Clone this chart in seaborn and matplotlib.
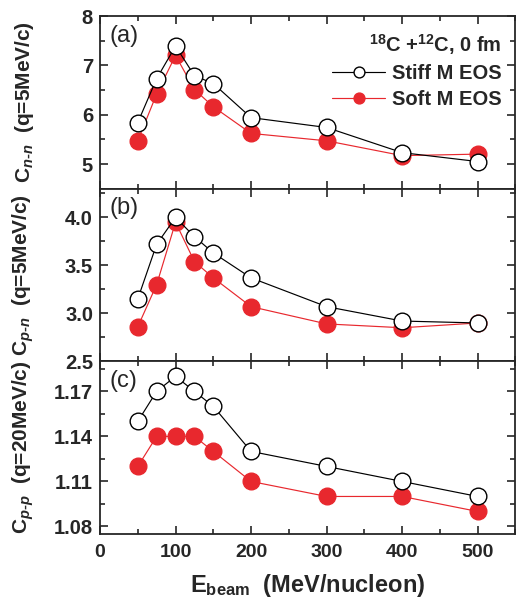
import matplotlib
matplotlib.use("Agg")
import matplotlib.pyplot as plt
import seaborn as sns
import pandas as pd
from matplotlib.ticker import MultipleLocator, FixedLocator

# Beam energies (MeV/nucleon)
energy = [50, 75, 100, 125, 150, 200, 300, 400, 500]

# (a) n-n correlation at q = 5 MeV/c
cnn_stiff = [5.84, 6.73, 7.39, 6.79, 6.63, 5.94, 5.74, 5.23, 5.05]
cnn_soft = [5.47, 6.42, 7.20, 6.51, 6.16, 5.62, 5.47, 5.17, 5.20]

# (b) p-n correlation at q = 5 MeV/c
cpn_stiff = [3.15, 3.72, 4.00, 3.80, 3.63, 3.37, 3.07, 2.92, 2.90]
cpn_soft = [2.86, 3.30, 3.95, 3.54, 3.37, 3.07, 2.89, 2.85, 2.90]

# (c) p-p correlation at q = 20 MeV/c
cpp_stiff = [1.15, 1.17, 1.18, 1.17, 1.16, 1.13, 1.12, 1.11, 1.10]
cpp_soft = [1.12, 1.14, 1.14, 1.14, 1.13, 1.11, 1.10, 1.10, 1.09]

panel_tags = ["(a)", "(b)", "(c)"]
ylabels = [r"C$_{n\text{-}n}$  (q=5MeV/c)",
           r"C$_{p\text{-}n}$  (q=5MeV/c)",
           r"C$_{p\text{-}p}$  (q=20MeV/c)"]
yticks = [[5, 6, 7, 8], [2.5, 3.0, 3.5, 4.0], [1.08, 1.11, 1.14, 1.17]]
yticklabels = [["5", "6", "7", "8"], ["2.5", "3.0", "3.5", "4.0"],
               ["1.08", "1.11", "1.14", "1.17"]]
yminor = [0.5, 0.25, 0.015]
ylims = [(4.5, 8.0), (2.5, 4.3), (1.075, 1.19)]
xticks = [0, 100, 200, 300, 400, 500]
series = [(cnn_stiff, cnn_soft), (cpn_stiff, cpn_soft), (cpp_stiff, cpp_soft)]

sns.set_style("ticks")
plt.rcParams["font.family"] = ["Liberation Sans", "DejaVu Sans"]
plt.rcParams["font.weight"] = "bold"
plt.rcParams["mathtext.fontset"] = "custom"
plt.rcParams["mathtext.rm"] = "Liberation Sans:bold"
plt.rcParams["mathtext.it"] = "Liberation Sans:italic:bold"
plt.rcParams["mathtext.bf"] = "Liberation Sans:bold"

RED = "#e8282e"

fig = plt.figure(figsize=(5.16, 6.03), dpi=100)
gs = fig.add_gridspec(3, 1, left=100 / 516, right=0.999,
                      top=1 - 16 / 603, bottom=1 - 534 / 603, hspace=0)
axes = [fig.add_subplot(gs[i, 0]) for i in range(3)]

for i, ax in enumerate(axes):
    stiff, soft = series[i]
    df = pd.DataFrame({"E": energy, "stiff": stiff, "soft": soft})
    sns.lineplot(data=df, x="E", y="soft", ax=ax, color=RED, lw=0.85,
                 marker="o", markersize=12, markerfacecolor=RED,
                 markeredgecolor=RED, markeredgewidth=1.0,
                 label="Soft M EOS", zorder=2)
    sns.lineplot(data=df, x="E", y="stiff", ax=ax, color="black", lw=0.85,
                 marker="o", markersize=12, markerfacecolor="white",
                 markeredgecolor="black", markeredgewidth=1.0,
                 label="Stiff M EOS", zorder=3)
    ax.set_xlim(0, 550)
    ax.set_ylim(*ylims[i])
    ax.xaxis.set_major_locator(FixedLocator(xticks))
    ax.xaxis.set_minor_locator(MultipleLocator(50))
    ax.yaxis.set_major_locator(FixedLocator(yticks[i]))
    ax.set_yticklabels(yticklabels[i])
    ax.yaxis.set_minor_locator(MultipleLocator(yminor[i]))
    ax.tick_params(which="both", direction="in", top=True, right=True,
                   width=1.2)
    ax.tick_params(axis="y", labelsize=14.5, pad=5)
    ax.tick_params(axis="x", labelsize=14, pad=7)
    ax.tick_params(which="major", length=6)
    ax.tick_params(which="minor", length=3.5)
    for sp in ax.spines.values():
        sp.set_linewidth(1.3)
    ax.set_ylabel(ylabels[i], fontsize=15, fontweight="bold")
    ax.yaxis.set_label_coords(-0.155, 0.5)
    ax.text(0.024, 0.95, panel_tags[i], transform=ax.transAxes, fontsize=17,
            fontweight="normal", va="top", ha="left")
    if i < 2:
        ax.tick_params(labelbottom=False)
        ax.set_xlabel("")
    if i == 0:
        handles, labels = ax.get_legend_handles_labels()
        leg = ax.legend(handles[::-1], labels[::-1],
                        title=r"$^{\mathbf{18}}$C +$^{\mathbf{12}}$C, 0 fm",
                        loc="upper right", bbox_to_anchor=(1.0, 0.99),
                        frameon=False, fontsize=14.5, title_fontsize=14.5,
                        markerscale=0.65, handlelength=2.6,
                        handletextpad=0.35, labelspacing=0.35,
                        borderaxespad=0.3)
        leg._legend_box.align = "right"
        for t in leg.get_texts():
            t.set_fontweight("bold")
        leg.get_title().set_fontweight("bold")
    else:
        lg = ax.get_legend()
        if lg is not None:
            lg.remove()

axes[2].set_xlabel(r"E$_{\mathrm{beam}}$  (MeV/nucleon)", fontsize=17,
                   fontweight="bold", labelpad=8)

fig.savefig("out.png", dpi=100)
